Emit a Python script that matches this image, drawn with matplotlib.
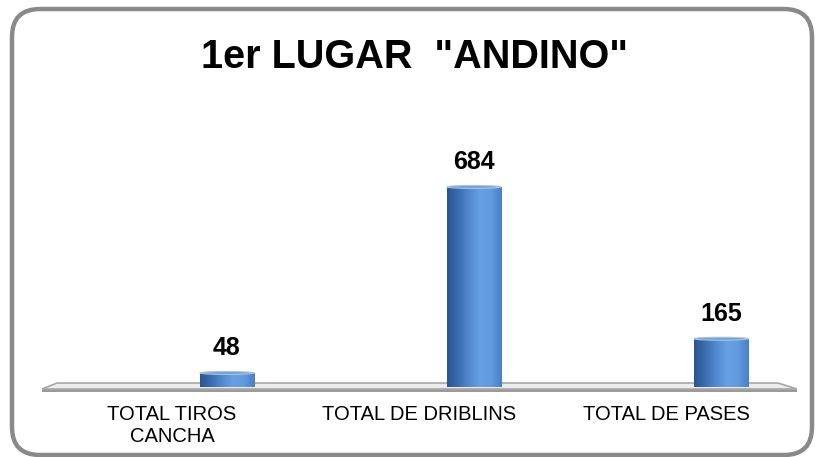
import numpy as np
import matplotlib
matplotlib.use("Agg")
import matplotlib.pyplot as plt
from matplotlib.patches import FancyBboxPatch, Polygon, Ellipse
from matplotlib.colors import LinearSegmentedColormap

plt.rcParams['font.family'] = ['Liberation Sans', 'DejaVu Sans']

categorias = ['TOTAL TIROS\nCANCHA', 'TOTAL DE DRIBLINS', 'TOTAL DE PASES']
valores = [48, 684, 165]
titulo = '1er LUGAR  "ANDINO"'

W, H = 817, 457
fig = plt.figure(figsize=(W / 100, H / 100), dpi=100)

# fondo: marco redondeado y piso 3D (coordenadas en pixeles)
bg = fig.add_axes([0, 0, 1, 1], zorder=0)
bg.set_xlim(0, W)
bg.set_ylim(H, 0)
bg.axis('off')
bg.add_patch(FancyBboxPatch((12 + 28, 9 + 28), 800 - 56, 446 - 56,
                            boxstyle="round,pad=28", fc='white', ec='#8a8a8a', lw=3.2))
bg.add_patch(Polygon([[42, 389], [797, 389], [797, 392], [42, 392]],
                     closed=True, fc='#9a9a9a', ec='none'))
bg.add_patch(Polygon([[57, 383], [778, 383], [797, 389], [42, 389]],
                     closed=True, fc='#ececec', ec='#a8a8a8', lw=1.2))

# ejes de las barras
ax = fig.add_axes([48.5 / W, (H - 387) / H, 741 / W, 234 / H], zorder=1)
ax.patch.set_alpha(0)
x = np.arange(len(valores))
offset = 0.222
ancho = 0.219
bars = ax.bar(x + offset, valores, width=ancho, color='#4a82c8', zorder=2)

cmap = LinearSegmentedColormap.from_list('cil', ['#2a5590', '#3a6cb0', '#5289d0', '#67a0e4', '#629ade', '#4a80c6'])
grad = np.linspace(0, 1, 256).reshape(1, -1)
for b in bars:
    x0 = b.get_x()
    x1 = x0 + b.get_width()
    h = b.get_height()
    im = ax.imshow(grad, extent=[x0, x1, 0, h], aspect='auto', cmap=cmap, zorder=3)
    im.set_clip_path(b)
    ax.add_patch(Ellipse((x0 + b.get_width() / 2, h), b.get_width(), 10,
                         fc='#74a0d4', ec='#a9c3e0', lw=0.8, zorder=4))
    ax.annotate(f'{h:.0f}', (x0 + b.get_width() / 2, h), xytext=(0, 13), textcoords='offset points',
                ha='center', va='baseline', fontsize=18, fontweight='bold', color='black')

ax.set_xlim(-0.5, 2.5)
ax.set_ylim(0, 800)
ax.set_xticks(x, categorias, fontsize=14.5)
ax.tick_params(axis='x', length=0, pad=13)
ax.set_yticks([])
for s in ax.spines.values():
    s.set_visible(False)

fig.text(415 / W, 1 - 68 / H, titulo, ha='center', va='baseline', fontsize=28.5, fontweight='bold')

fig.savefig('out.png', dpi=100)
